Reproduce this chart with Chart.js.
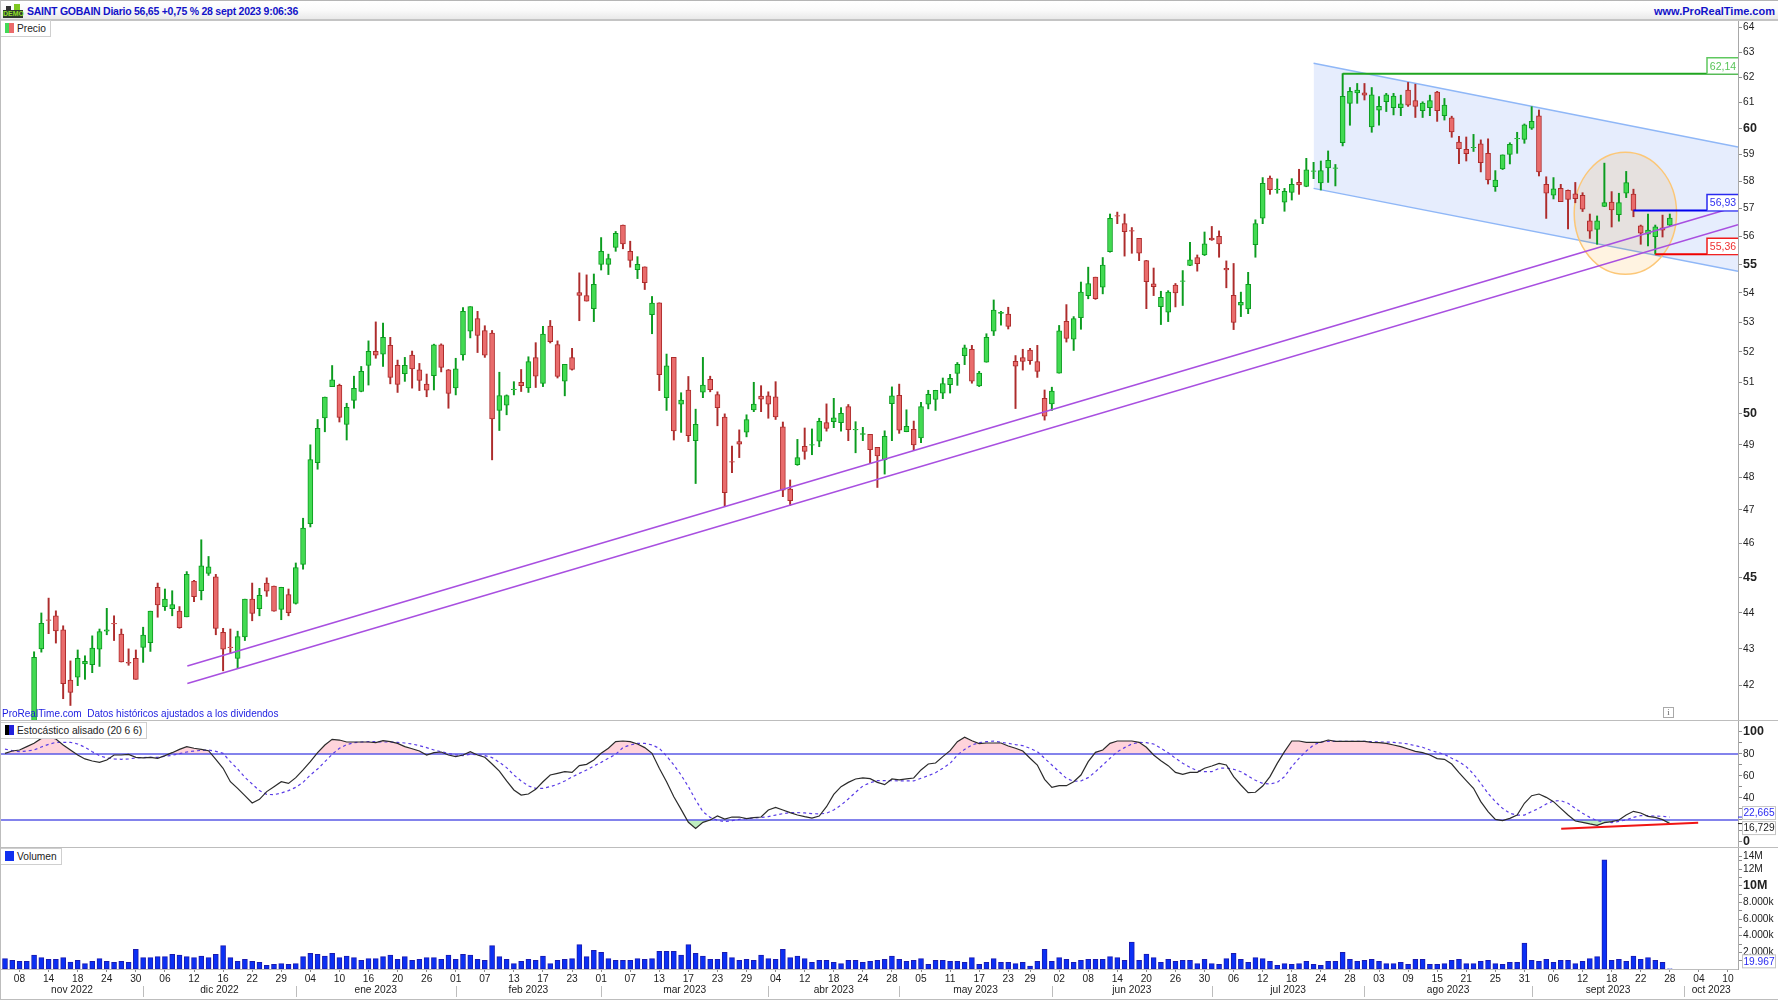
<!doctype html>
<html lang="es">
<head>
<meta charset="utf-8">
<title>SAINT GOBAIN Diario</title>
<script src="https://cdn.jsdelivr.net/npm/chart.js@4/dist/chart.umd.min.js"></script>
<style>
  html, body { margin: 0; padding: 0; background: #fff; width: 1778px; height: 1000px; overflow: hidden; }
  body { position: relative; font: 10.2px "Liberation Sans", Arial, sans-serif; color: #222; }
  canvas { position: absolute; left: 0; }
  .rule { position: absolute; background: #bdbdbd; }
  #head { position: absolute; left: 0; top: 0; width: 1778px; height: 21px; border-top: 1px solid #b5b5b5; box-sizing: border-box;
          background: linear-gradient(#fff, #fafafa 50%, #e9e9e9); border-bottom: 2px solid #c4c4c4; z-index: 5; }
  #title { position: absolute; left: 27px; top: 4px; font-weight: bold; color: #1212c8; white-space: nowrap; font-size: 10.5px; letter-spacing: -0.25px; }
  #site { position: absolute; right: 3px; top: 4px; font-weight: bold; color: #1212c8; white-space: nowrap; font-size: 11px; }
  .chip { position: absolute; left: 1px; height: 15px; line-height: 15px; background: #fff; border: 1px solid #cfcfcf; border-left: 0; padding: 0 4px 0 16px; z-index: 5; white-space: nowrap; color: #222; }
  .chip i { position: absolute; left: 4px; top: 2px; width: 9px; height: 10px; display: block; }
  #note { position: absolute; left: 2px; top: 708px; color: #1c1ce0; z-index: 5; white-space: nowrap; font-size: 10px; }
  #info { position: absolute; left: 1663px; top: 707px; width: 9px; height: 9px; border: 1px solid #a9a9a9; font: 9px "Liberation Serif", serif; line-height: 9px; text-align: center; color: #666; z-index: 5; }
  #logo { position: absolute; left: 3px; top: 4px; width: 20px; height: 14px; z-index: 6; }
  #logo b { position: absolute; left: 0; bottom: 0; width: 20px; height: 8px; background: #2f3a2f; color: #8fe02a; font: bold 7px/8px "Liberation Sans", Arial, sans-serif; text-align: center; letter-spacing: 0; }
  #logo u { position: absolute; left: 11px; top: 0; width: 6px; height: 6px; background: #7ec820; }
  #logo s { position: absolute; left: 3px; top: 2px; width: 5px; height: 4px; background: #333; }
</style>
</head>
<body>
<div id="head">
  <div id="title">SAINT GOBAIN Diario 56,65 +0,75 % 28 sept 2023 9:06:36</div>
  <div id="site">www.ProRealTime.com</div>
</div>
<div id="logo"><s></s><u></u><b>DEMO</b></div>
<div class="rule" style="left:0;top:0;width:1px;height:1000px;z-index:6"></div>
<div class="rule" style="left:0;top:720px;width:1778px;height:1px;z-index:1"></div>
<div class="rule" style="left:0;top:847px;width:1778px;height:1px;z-index:1"></div>
<div class="rule" style="left:0;top:999px;width:1778px;height:1px;z-index:1"></div>
<div class="chip" style="top:20px"><i style="background:linear-gradient(90deg,#43d957 50%,#ea6a6a 50%)"></i>Precio</div>
<div class="chip" style="top:722px"><i style="background:linear-gradient(90deg,#000 50%,#2222dd 50%)"></i>Estocástico alisado (20 6 6)</div>
<div class="chip" style="top:848px"><i style="background:#1030f0"></i>Volumen</div>
<div id="note">ProRealTime.com&nbsp; Datos históricos ajustados a los dividendos</div>
<div id="info">i</div>
<canvas id="volumeCanvas" width="1778" height="160" style="top:840px"></canvas>
<canvas id="priceCanvas" width="1778" height="701" style="top:20px"></canvas>
<canvas id="stochCanvas" width="1778" height="137" style="top:715px"></canvas>

<script>
// Daily prices, four leading sessions sit below the visible range and stay empty.
const open = [null,null,null,null,
  41.0,43.0,43.81,43.92,43.53,42.15,42.23,42.59,42.57,42.99,
  43.49,43.71,43.41,42.63,42.74,43.04,43.17,44.73,44.18,44.12,
  44.05,43.89,44.91,44.63,45.13,45.03,43.46,43.05,42.74,43.33,
  44.39,44.12,44.85,44.76,44.1,44.52,44.27,45.39,46.59,48.44,
  49.85,50.86,50.9,49.64,50.41,50.7,51.55,52.02,51.93,52.22,
  51.56,51.28,51.9,51.41,50.94,51.22,52.24,51.41,50.82,51.9,
  52.7,53.12,52.72,52.63,50.09,50.26,50.76,51,50.82,51.81,
  50.96,52.87,52.25,51.04,51.81,54.01,53.91,53.46,55,55,
  55.6,56.4,55.46,54.81,54.91,53.26,53.66,50.5,51.82,50.29,
  50.75,49.13,50.68,51.1,50.6,49.88,48.48,49.1,49.4,50.11,
  50.55,50.56,50.53,49.57,47.63,48.38,48.95,48.99,49.11,49.7,
  49.73,49.7,50.21,49.47,49.33,49.33,48.92,48.53,50.31,50.58,
  49.41,49.49,49.22,50.29,50.44,50.65,50.92,51.29,51.88,52.09,
  50.88,51.66,52.7,53.3,53.28,51.69,51.81,52.06,51.68,50.48,
  50.3,51.3,53.03,52.43,53.15,53.91,54.55,54.2,55.45,56.74,
  56.45,56.2,55.92,55.13,54.32,53.53,53.34,54.27,54.4,54.96,
  55.24,55.33,55.93,55.99,54.86,53.92,53.58,53.45,55.7,56.65,
  58.12,57.69,57.23,57.59,57.96,57.81,58.37,57.94,58.5,58.48,
  59.45,60.97,61.38,61.38,60.06,60.7,61.03,60.8,60.8,61.49,
  61.08,60.68,60.8,61.41,60.49,60.41,59.48,59.2,59.26,59.41,
  59.05,57.8,58.46,59.01,59.6,59.58,60.01,60.48,57.89,57.49,
  57.74,57.67,57.54,57.48,56.55,56.24,57.08,57.24,56.78,57.56,
  57.53,56.37,56.07,55.98,56.3,56.4];
const close = [null,null,null,null,
  42.77,43.71,43.79,43.5,42.05,41.82,42.74,42.66,43.02,43.48,
  43.53,43.69,42.64,42.61,42.17,43.38,44.05,44.23,44.39,44.24,
  43.59,45.1,44.46,45.35,45.32,43.57,42.99,43.03,43.34,44.39,
  43.99,44.5,44.62,44.05,44.73,44.01,45.3,46.46,48.54,49.52,
  50.52,51.08,49.87,50.19,50.8,51.36,52.02,51.89,52.49,51.16,
  50.93,51.56,51.44,51.06,50.74,52.24,51.49,50.64,51.44,53.37,
  53.53,52.55,51.89,49.82,50.57,50.57,50.78,50.89,51.68,51.2,
  52.6,52.34,51.19,51.59,51.42,53.92,53.72,54.3,55.46,55.2,
  56.1,55.72,55.14,55,54.36,53.65,51.25,51.54,49.44,50.42,
  49.29,49.65,50.91,50.76,50.18,47.52,48.46,49.02,49.8,50.29,
  50.45,50.29,49.88,47.6,47.28,48.6,48.79,49.01,49.74,49.52,
  49.85,50,49.48,49.49,49.35,48.85,48.65,49.27,50.56,49.46,
  49.58,49,50.21,50.61,50.74,50.96,51.13,51.59,52.14,51.04,
  51.3,52.49,53.41,53.34,52.86,51.53,51.69,51.71,51.36,49.91,
  50.71,52.71,52.45,53.12,54.03,54.33,53.8,54.97,56.64,56.72,
  56.16,56.18,55.39,54.39,54.22,53.85,54.03,54,54.42,55.16,
  55.02,55.73,55.87,55.72,54.8,52.99,53.68,54.3,56.45,57.93,
  57.69,57.71,57.63,57.89,57.87,58.43,58.39,58.4,58.79,58.5,
  61.24,61.44,61.49,61.29,61.3,60.85,61.3,61.25,60.95,60.9,
  60.85,60.98,61.08,60.68,60.9,59.86,59.23,59.04,59.28,58.7,
  58.05,58.05,58.99,59.39,59.62,60.14,60.27,58.35,57.56,57.72,
  57.25,57.33,57.36,56.98,56.18,56.55,57.22,56.95,57.22,57.95,
  56.93,56.11,56.22,56.34,56.22,56.65];
const high = [null,null,null,null,
  42.92,44,44.42,44.06,43.64,42.67,42.97,42.81,43.36,43.55,
  44.13,43.92,43.55,43,42.97,43.6,44.05,44.85,44.68,44.63,
  44.18,45.18,44.93,46.11,45.62,45.1,43.57,43.55,43.49,44.39,
  44.85,44.7,45,44.76,44.73,44.68,45.43,46.75,49,49.8,
  50.52,51.55,50.94,50.32,51.2,51.52,52.37,53.01,52.97,52.49,
  51.73,51.82,52.03,51.62,51.27,52.26,52.27,51.42,51.79,53.5,
  53.53,53.37,52.88,52.72,51.33,50.59,51.02,51.42,51.84,52.31,
  52.86,53.06,52.37,51.59,52.12,54.7,54.63,54.66,55.95,55.36,
  56.17,56.4,55.82,55.27,54.91,53.88,53.66,51.93,51.82,50.66,
  51.19,50.13,51.82,51.2,50.69,49.98,48.96,49.47,49.95,51,
  50.89,50.69,51.02,49.72,47.91,49.17,49.53,49.5,49.84,50.3,
  50.48,50.18,50.28,49.73,49.55,49.33,48.92,49.44,50.85,50.94,
  50.11,49.75,50.35,50.74,50.74,51.14,51.26,51.65,52.23,52.22,
  51.36,52.61,53.76,53.37,53.51,51.88,52.09,52.12,52.22,50.75,
  50.84,52.89,53.6,53.19,54.38,54.9,54.55,55.24,56.8,56.87,
  56.8,56.31,55.92,55.14,54.87,54.06,54.08,54.33,54.78,55.78,
  55.33,56.15,56.35,56.19,55.12,55.03,54.03,54.72,56.59,58.14,
  58.2,58.09,57.74,58.1,58.45,58.86,58.71,58.76,59.14,58.63,
  62.14,61.59,61.75,61.75,61.59,61.23,61.36,61.36,61.29,61.79,
  61.72,61.03,61.29,61.44,61.16,60.47,59.7,59.67,59.77,59.56,
  59.6,58.4,58.99,59.45,59.85,60.17,60.84,60.71,58.17,58.14,
  57.89,57.68,57.96,57.58,56.8,56.73,58.68,57.62,57.56,58.37,
  57.71,56.4,56.8,56.4,56.76,56.8];
const low = [null,null,null,null,
  40.9,42.91,43.42,43.16,41.65,41.47,42,42.17,42.35,42.52,
  43.39,43.23,42.64,42.55,42.17,42.63,42.93,43.88,44.07,43.92,
  43.57,43.89,44.32,44.37,45.07,43.39,42.4,42.88,42.47,43.23,
  43.78,43.92,44.47,44.05,43.81,43.92,44.25,45.25,46.49,48.24,
  49.41,50.86,49.72,49.15,50.16,50.69,50.91,51.79,51.52,50.95,
  50.67,51.03,50.81,50.73,50.53,50.75,51.34,50.16,50.59,51.73,
  52.47,51.98,51.82,48.53,49.45,49.95,50.59,50.7,50.67,50.83,
  50.86,52.3,51.14,50.56,51.4,53.05,53.72,53.02,54.8,54.64,
  55.46,55.55,54.9,54.5,54.12,52.61,50.73,50.09,49.15,49.39,
  49.1,47.8,50.5,50.69,49.6,47.1,48.13,48.6,49.25,50.05,
  50.05,49.84,49.8,47.4,47.13,48.36,48.55,48.69,48.94,49.43,
  49.54,49.43,49.13,48.75,49.13,48.42,47.68,48.09,49.13,49.36,
  49.41,48.83,49.07,50.14,50.09,50.47,50.65,50.9,51.58,50.97,
  50.86,51.66,52.55,52.9,52.77,50.15,51.4,51.59,51.16,49.78,
  50.09,51.3,52.33,52.05,52.76,53.8,53.78,53.97,55.43,56.45,
  55.29,55.39,55.13,53.46,53.91,52.92,53.02,53.52,53.57,54.95,
  54.76,55.31,55.85,55.25,54.18,52.75,53.19,53.29,55.25,56.45,
  57.52,57.56,56.9,57.31,57.52,57.8,58.1,57.68,57.96,57.83,
  59.33,60.12,60.97,61.1,59.85,60.12,60.65,60.52,60.49,60.85,
  60.42,60.42,60.49,60.27,60.32,59.66,58.66,58.76,59.12,58.35,
  57.9,57.63,58.44,58.65,59.05,59.43,59.96,58.2,56.64,57.35,
  57.25,56.26,57.21,56.89,55.92,55.71,57.07,56.33,56.54,57.4,
  56.7,55.71,55.65,55.36,55.97,56.38];

// Smoothed stochastic (20 6 6): %K and its signal.
const stochK = [
  80.6,82.7,83.6,86.7,89.7,94.2,95.2,93.6,88.2,83.6,
  79.1,75.5,73.6,72.4,74.5,79.1,79.1,79.7,77,76.4,
  77,76.1,78.5,81.2,84.2,86.7,85.2,84.2,83,75.2,
  67,54.8,48.8,42.1,35.5,38.8,45.8,50.3,54.8,53.3,
  58.5,65.5,73,81.2,88.2,93.3,92.7,90.9,90.9,90.9,
  90.9,90.3,92.1,91.2,89.7,86.7,84.8,82.7,79.1,81.2,
  81.8,79.1,77.6,79.1,82.1,79.1,77,70.9,64.5,55.5,
  47.3,42.7,43.6,47.9,54.8,60.9,62.4,63.9,63.3,69.4,
  70.6,74.5,80.6,85.2,91.2,91.8,91.2,89.1,85.8,80.6,
  67,54.8,41.2,29.7,17.9,12.4,17.9,20,23.6,20.9,
  22.7,22.7,21.2,22.1,22.7,29.1,31.5,29.1,26.7,24.5,
  23,21.8,23.6,32.1,43.3,50.3,54.2,57.3,58.2,57.6,
  54.2,52.1,57.3,56.4,57.3,58.2,65.5,70.9,71.8,77.6,
  83,91.2,95.2,92.1,89.4,90,90,90,87.3,85.2,
  82.7,76.1,70,57,49.7,51.2,51.2,54.8,60.9,73,
  81.5,83.6,89.7,91.8,91.8,91.8,90.6,86.1,79.1,73.9,
  69.4,63.3,61.5,63.3,63.3,67,69.1,71.5,70,59.4,
  51.8,44.8,45.2,50.9,59.4,71.5,82.1,91.8,91.8,90.6,
  90.6,90.6,92.7,91.5,91.5,91.5,91.5,91.5,90.6,90.3,
  89.7,88.2,86.7,84.5,82.4,81.2,79.1,75.8,75.2,70.9,
  63,55.8,48.8,36.7,27.6,20.6,19.4,21.5,24.5,35.2,
  42.1,43.6,40.6,36.7,30.6,24.5,19.1,17.9,16.4,15.2,
  17.6,18.5,20,24.5,27.9,26.4,23.3,22.4,20.3,16.729];
const stochD = [
  84.5,83,82.1,82.7,83.6,86.4,88.8,90.6,90.6,90.6,
  89.1,86.1,82.1,78.5,76.4,75.5,75.2,75.5,76.4,76.7,
  77,77,77.9,78.8,80.3,81.8,82.7,83.3,83.6,82.4,
  80.6,73,66.4,58.8,52.7,46.7,43.3,43,44.5,46.7,
  49.7,54.2,60.9,66.4,73,79.7,85.2,88.5,90.3,90.9,
  91.2,91.2,90.9,90.9,90.6,90,89.1,87.6,85.8,83.6,
  82.1,80.6,79.1,78.5,79.7,79.4,78.5,76.7,72.4,67.6,
  60.9,55.5,50.9,48.8,48.8,50.3,52.4,55.5,59.1,62.4,
  65.5,69.1,72.4,76.1,79.7,85.8,88.2,89.7,89.7,88.2,
  85.2,78.2,70,60.9,50.3,38.2,27.6,22.4,19.7,18.5,
  19.4,20.6,21.2,21.8,22.4,23,24.5,25.8,26.7,26.7,
  26.4,25.8,25.5,26.1,29.1,33.6,39.1,45.2,50.9,53.9,
  55.8,55.8,55.8,55.5,55.5,55.5,57.9,60.3,63,67,
  71.5,79.1,84.2,88.2,90.3,91.2,91.8,90.6,89.7,88.5,
  87.6,85.2,82.1,76.1,70,63.9,57.9,55.2,55.5,58.5,
  63.9,70,76.1,82.1,85.8,89.1,90.6,90.3,89.1,85.2,
  81.2,76.1,71.5,67.9,64.8,63.9,63.9,67,67.3,66.1,
  63.9,60,56.1,53.3,52.7,54.2,59.4,68.5,76.1,82.7,
  88.2,90.9,91.5,91.5,91.5,91.5,91.5,91.5,91.2,90.9,
  90.9,90.6,90,89.1,87.6,86.1,83.6,81.5,79.7,76.1,
  73,68.5,61.8,53.3,44.2,36.7,30.6,26.1,24.5,24.5,
  27.6,30.6,34.5,37.3,37.6,35.2,30.6,26.1,22.4,19.4,
  18.2,17.6,18.8,20,22.4,23.9,23.9,23.6,23.3,22.665];

// Daily volume, in millions of shares.
const volumeM = [
  1.24,1.04,.92,.92,1.68,1.36,1.16,1.16,1.36,.84,
  1.04,.64,.92,1.24,.92,.8,.92,.8,2.36,1.36,
  1.36,1.48,1.48,1.76,1.68,1.48,1.36,1.56,1.36,1.76,
  2.8,1.36,.92,1.16,.92,.8,.44,.56,.64,.56,
  .64,1.48,1.88,1.76,1.56,1.88,1.36,1.56,1.36,1.04,
  1.24,1.24,1.48,1.68,1.16,1.48,1.04,1.16,1.36,1.36,
  1.16,1.68,1.16,1.76,1.68,1.16,1.04,2.8,1.48,1.16,
  .64,.92,1.16,1.04,1.56,.64,1.04,1.16,1.24,2.92,
  1.48,2.24,2,1.24,1.04,1.04,1.04,1.24,1.16,1.24,
  2.12,2.12,2.12,1.68,2.92,1.88,1.56,1.16,1.16,2,
  1.36,1.04,1.16,1.04,1.68,1.24,1.16,2.36,1.36,1.56,
  1.24,.8,1.04,1.04,.8,.64,1.04,1.04,.8,.92,
  1.04,1.16,1.56,1.16,.92,1.04,1.24,.56,1.04,1.04,
  .92,.92,.8,1.36,.56,.8,1.24,.8,.8,.64,
  .8,.36,.92,2.36,.92,1.36,1.16,.8,1.04,1.16,
  1.16,1.16,1.48,1.36,1.04,3.24,1.04,1.8,1.36,.8,
  1.16,.92,1.04,1.04,.64,1.16,.64,.56,1.24,1.88,
  1.16,.8,1.36,1.24,.92,.44,.64,.56,.64,.92,
  .56,.44,.92,.92,2,1.16,.92,1.04,1.16,.92,
  .64,.64,.8,.56,1.16,1.16,.56,.56,.64,1.04,
  1.16,.64,.64,.92,1.04,.64,.56,.8,.8,3.12,
  1.04,.92,1.16,.8,1.04,1.04,.64,.92,1.24,1.48,
  13.12,1.04,1.16,.92,1.56,1.16,1.36,1.04,.8,0.019967];

// Date axis: session index of each day tick, and of each month's first session.
const dayTickIndex = [2,6,10,14,18,22,26,30,34,38,42,46,50,54,58,62,66,70,74,78,82,86,90,94,98,102,106,110,114,118,122,126,130,134,138,
  141,145,149,153,157,161,165,169,173,177,181,185,189,193,197,201,205,209,213,217,221,225,229,233,237];
const dayTickLabels = ['08','14','18','24','30','06','12','16','22','29','04','10','16','20','26','01','07','13','17','23','01','07','13','17','23','29','04','12','18','24','28','05','11','17','23','29','02','08','14','20','26','30','06','12','18','24','28','03','09','15','21','25','31','06','12','18','22','28','04','10'];
const monthLabels = ['nov 2022','dic 2022','ene 2023','feb 2023','mar 2023','abr 2023','may 2023','jun 2023','jul 2023','ago 2023','sept 2023','oct 2023'];
const monthStarts = [19,40,62,82,105,123,144,166,187,210,231];

// Axis ticks.
const priceTicks = [42,43,44,45,46,47,48,49,50,51,52,53,54,55,56,57,58,59,60,61,62,63,64];
const priceBold = [45,50,55,60];
const stochTicks = [0,10,20,30,40,50,60,70,80,90,100];
const stochLabels = [0,40,60,80,100];
const volumeTicks = [1,2,3,4,5,6,7,8,9,10,11,12,13,13.55];
const volumeLabels = {2:'2.000k',4:'4.000k',6:'6.000k',8:'8.000k',10:'10M',12:'12M',13.55:'14M'};

// Hand-drawn studies on the price pane, as [session, price] pairs.
const xMin = -0.55, xMax = 238.38;
const channelTop = [[180,62.55],[xMax,59.29]];
const channelBottom = [[180,57.74],[xMax,54.76]];
const trendUpper = [[25.08,42.53],[236.5,56.94]];
const trendLower = [[25.08,42.06],[xMax,56.41]];
const levelHigh = 62.14, levelHighFrom = 184;
const levelMid = 56.93, levelMidFrom = 224;
const levelLow = 55.36, levelLowFrom = 227;
const ellipseSessions = [215.85,229.93];
const ellipsePrices = [54.65,59.09];
const stochTrend = [[214.06,12.1],[232.9,17.6]];
const stochBands = [80,20];

const FONT = "'Liberation Sans', Arial, sans-serif";
Chart.defaults.font.family = FONT;
Chart.defaults.font.size = 10.2;
Chart.defaults.color = '#222';
Chart.defaults.animation = false;
Chart.defaults.events = [];

const UP_FILL = '#42da52', UP_LINE = '#0b9c1f';
const DOWN_FILL = '#e96c6c', DOWN_LINE = '#ad2c2c';
const AXIS = '#a8a8a8', TICK = '#8c8c8c';

const pts = pairs => pairs.map(([x, y]) => ({x, y}));
const sessions = close.map((c, i) => i).filter(i => close[i] !== null);
const fmtDec = (v, d) => v.toFixed(d).replace('.', ',');

// Removes the label-driven margins so each plot area ends exactly on the pane edges.
const noMargins = s => { s.paddingTop = s.paddingBottom = s.paddingLeft = s.paddingRight = 0; };
const rightAxis = extra => Object.assign({
  position: 'right', bounds: 'data',
  border: {color: AXIS, width: 1},
  grid: {drawOnChartArea: false, tickLength: 4, tickColor: TICK, tickWidth: 1},
  afterFit: s => { s.width = 40; noMargins(s); }
}, extra);
const hiddenX = {type: 'linear', min: xMin, max: xMax, bounds: 'data', display: false, offset: false, grid: {offset: false}};
const flat = {legend: {display: false}, tooltip: {enabled: false}};

// Orange highlight behind the candles; multiply keeps the channel tint underneath.
const ellipsePlugin = {
  id: 'ellipse',
  beforeDatasetDraw(chart, args) {
    if (chart.data.datasets[args.index].label !== 'wicks') return;
    const {x, y} = chart.scales, c = chart.ctx;
    const x0 = x.getPixelForValue(ellipseSessions[0]), x1 = x.getPixelForValue(ellipseSessions[1]);
    const y0 = y.getPixelForValue(ellipsePrices[1]), y1 = y.getPixelForValue(ellipsePrices[0]);
    c.save();
    c.beginPath();
    c.ellipse((x0 + x1) / 2, (y0 + y1) / 2, (x1 - x0) / 2, (y1 - y0) / 2, 0, 0, Math.PI * 2);
    c.globalCompositeOperation = 'multiply';
    c.fillStyle = 'rgb(255,243,225)';
    c.fill();
    c.globalCompositeOperation = 'source-over';
    c.strokeStyle = '#fcc777';
    c.lineWidth = 1.5;
    c.stroke();
    c.restore();
  }
};

// Level tags standing on the right end of each horizontal line.
const levelTags = {
  id: 'levelTags',
  afterDatasetsDraw(chart) {
    const {y} = chart.scales, c = chart.ctx, right = chart.chartArea.right;
    [[levelHigh, '#5fc85f', '#58c458'], [levelMid, '#2a2af0', '#3030f0'], [levelLow, '#f01c1c', '#ee3030']].forEach(([v, line, text]) => {
      const py = y.getPixelForValue(v), x0 = right - 31, h = 16;
      c.save();
      c.fillStyle = '#fff';
      c.fillRect(x0, py - h, 31, h);
      c.strokeStyle = line;
      c.lineWidth = 1.5;
      c.beginPath();
      c.moveTo(x0, py);
      c.lineTo(x0, py - h);
      c.lineTo(right, py - h);
      c.stroke();
      c.fillStyle = text;
      c.font = '10.5px ' + FONT;
      c.textAlign = 'center';
      c.textBaseline = 'middle';
      c.fillText(fmtDec(v, 2), x0 + 16, py - h / 2 + 1);
      c.restore();
    });
  }
};

function valueBox(c, text, color, cy) {
  c.save();
  c.fillStyle = '#fff';
  c.fillRect(1742, cy - 6.5, 33, 13);
  c.strokeStyle = '#c4c4c4';
  c.lineWidth = 1;
  c.strokeRect(1742.5, cy - 6.5, 33, 13);
  c.fillStyle = color;
  c.font = '10.2px ' + FONT;
  c.textAlign = 'center';
  c.textBaseline = 'middle';
  c.fillText(text, 1759, cy + 0.5);
  c.restore();
}

const stochTags = {
  id: 'stochTags',
  afterDraw(chart) {
    const {y} = chart.scales, c = chart.ctx;
    const k = stochK[stochK.length - 1], d = stochD[stochD.length - 1];
    const pk = y.getPixelForValue(k), pd = y.getPixelForValue(d);
    c.save();
    c.lineWidth = 1;
    c.strokeStyle = '#2a2af0';
    c.beginPath(); c.moveTo(1738, pd); c.lineTo(1742, pd); c.stroke();
    c.strokeStyle = '#111';
    c.beginPath(); c.moveTo(1738, pk); c.lineTo(1742, pk); c.stroke();
    c.restore();
    valueBox(c, fmtDec(d, 3), '#2a2af0', pd - 4);
    valueBox(c, fmtDec(k, 3), '#222', pk + 4.5);
  }
};

const volumeTags = {
  id: 'volumeTags',
  afterDraw(chart) {
    const {x} = chart.scales, c = chart.ctx;
    c.save();
    c.strokeStyle = '#bdbdbd';
    c.lineWidth = 1;
    monthStarts.forEach(s => {
      const px = Math.round(x.getPixelForValue(s)) + 0.5;
      c.beginPath(); c.moveTo(px, 146); c.lineTo(px, 157); c.stroke();
    });
    c.restore();
    const last = volumeM[volumeM.length - 1];
    valueBox(c, (last * 1e6).toLocaleString('de-DE'), '#2a2af0', chart.scales.y.getPixelForValue(last) - 7.5);
  }
};

new Chart(document.getElementById('priceCanvas'), {
  type: 'bar',
  plugins: [ellipsePlugin, levelTags],
  data: {
    datasets: [
      {type: 'line', label: 'channel', order: 10, data: pts(channelTop), borderColor: '#8fb7f7', borderWidth: 1.5, pointRadius: 0,
       fill: '+1', backgroundColor: '#e6edfd'},
      {type: 'line', label: 'channel low', order: 9, data: pts(channelBottom), borderColor: '#8fb7f7', borderWidth: 1.5, pointRadius: 0, fill: false},
      {label: 'wicks', order: 6, grouped: false, barThickness: 1.3, borderWidth: 0,
       data: sessions.map(i => ({x: i, y: [low[i], high[i]]})),
       backgroundColor: sessions.map(i => close[i] >= open[i] ? UP_LINE : DOWN_LINE)},
      {label: 'bodies', order: 5, grouped: false, barThickness: 5, borderWidth: 1, borderSkipped: false,
       data: sessions.map(i => ({x: i, y: [Math.min(open[i], close[i]), Math.max(open[i], close[i])]})),
       backgroundColor: sessions.map(i => close[i] >= open[i] ? UP_FILL : DOWN_FILL),
       borderColor: sessions.map(i => close[i] >= open[i] ? UP_LINE : DOWN_LINE)},
      {type: 'line', label: 'trend upper', order: 4, data: pts(trendUpper), borderColor: '#a84fe0', borderWidth: 1.6, pointRadius: 0},
      {type: 'line', label: 'trend lower', order: 4, data: pts(trendLower), borderColor: '#a84fe0', borderWidth: 1.6, pointRadius: 0},
      {type: 'line', label: 'high', order: 3, data: pts([[levelHighFrom, levelHigh], [xMax, levelHigh]]), borderColor: '#1fa51f', borderWidth: 2, pointRadius: 0},
      {type: 'line', label: 'mid', order: 3, data: pts([[levelMidFrom, levelMid], [xMax, levelMid]]), borderColor: '#0000f0', borderWidth: 2, pointRadius: 0},
      {type: 'line', label: 'low', order: 3, data: pts([[levelLowFrom, levelLow], [xMax, levelLow]]), borderColor: '#f00000', borderWidth: 2, pointRadius: 0}
    ]
  },
  options: {
    responsive: false,
    layout: {padding: {left: 1, top: 0, right: 0, bottom: 0}},
    plugins: flat,
    scales: {
      x: hiddenX,
      y: rightAxis({
        type: 'logarithmic', min: 41.06, max: 64.31,
        afterBuildTicks: s => { s.ticks = priceTicks.map(value => ({value})); },
        ticks: {
          autoSkip: false, padding: 1, color: '#222',
          callback: v => String(v),
          font: c => priceBold.includes(c.tick && c.tick.value) ? {size: 12.5, weight: 'bold'} : {size: 10.2}
        }
      })
    }
  }
});

new Chart(document.getElementById('stochCanvas'), {
  type: 'line',
  plugins: [stochTags],
  data: {
    datasets: [
      {label: 'over', order: 9, data: stochK.map((y, x) => ({x, y})), borderWidth: 0, borderColor: 'transparent', pointRadius: 0,
       fill: {target: {value: stochBands[0]}, above: '#ffd3db', below: 'rgba(0,0,0,0)'}},
      {label: 'under', order: 9, data: stochK.map((y, x) => ({x, y})), borderWidth: 0, borderColor: 'transparent', pointRadius: 0,
       fill: {target: {value: stochBands[1]}, above: 'rgba(0,0,0,0)', below: '#bfeebf'}},
      {label: 'band 80', order: 5, data: pts([[xMin, stochBands[0]], [xMax, stochBands[0]]]), borderColor: '#5a5ae6', borderWidth: 1.4, pointRadius: 0},
      {label: 'band 20', order: 5, data: pts([[xMin, stochBands[1]], [xMax, stochBands[1]]]), borderColor: '#5a5ae6', borderWidth: 1.4, pointRadius: 0},
      {label: 'signal', order: 3, data: stochD.map((y, x) => ({x, y})), borderColor: '#5a3ce6', borderWidth: 1.2, borderDash: [3, 3], pointRadius: 0},
      {label: 'K', order: 2, data: stochK.map((y, x) => ({x, y})), borderColor: '#2b2b2b', borderWidth: 1.2, pointRadius: 0},
      {label: 'trend', order: 1, data: pts(stochTrend), borderColor: '#f01414', borderWidth: 2, pointRadius: 0}
    ]
  },
  options: {
    responsive: false,
    layout: {padding: {left: 1, top: 6, right: 0, bottom: 5}},
    plugins: flat,
    scales: {
      x: hiddenX,
      y: rightAxis({
        type: 'linear', min: -4.55, max: 110,
        afterBuildTicks: s => { s.ticks = stochTicks.map(value => ({value})); },
        ticks: {
          autoSkip: false, padding: 1, color: '#222',
          callback: v => stochLabels.includes(v) ? String(v) : '',
          font: c => [0, 100].includes(c.tick && c.tick.value) ? {size: 12.5, weight: 'bold'} : {size: 10.2}
        }
      })
    }
  }
});

new Chart(document.getElementById('volumeCanvas'), {
  type: 'bar',
  plugins: [volumeTags],
  data: {
    datasets: [
      {label: 'Volumen', barThickness: 5, borderWidth: 1, borderSkipped: false, grouped: false,
       data: volumeM.map((y, x) => ({x, y})), backgroundColor: '#0a30f5', borderColor: '#1a1ab0'}
    ]
  },
  options: {
    responsive: false,
    layout: {padding: {left: 1, top: 7, right: 0, bottom: 0}},
    plugins: flat,
    scales: {
      x: {
        type: 'linear', min: xMin, max: xMax, bounds: 'data', offset: false, weight: 0,
        border: {color: '#bdbdbd'},
        grid: {drawOnChartArea: false, offset: false, tickLength: 3, tickColor: TICK},
        afterBuildTicks: s => { s.ticks = dayTickIndex.map(value => ({value})); },
        afterFit: s => { s.height = 15; noMargins(s); },
        ticks: {
          autoSkip: false, maxRotation: 0, minRotation: 0, padding: 1, color: '#222',
          callback: v => dayTickLabels[dayTickIndex.indexOf(v)]
        }
      },
      months: {
        type: 'linear', position: 'bottom', axis: 'x', min: xMin, max: xMax, bounds: 'data', offset: false, weight: 1,
        border: {display: false},
        grid: {display: false, drawTicks: false, offset: false},
        afterBuildTicks: s => {
          const edges = [xMin, ...monthStarts, xMax];
          s.ticks = monthLabels.map((_, i) => ({value: (edges[i] + edges[i + 1]) / 2}));
        },
        afterFit: s => { s.height = 16; noMargins(s); },
        ticks: {
          autoSkip: false, maxRotation: 0, minRotation: 0, padding: 0, color: '#222',
          callback: (v, i) => monthLabels[i]
        }
      },
      y: rightAxis({
        type: 'linear', min: 0, max: 14.65,
        afterBuildTicks: s => { s.ticks = volumeTicks.map(value => ({value})); },
        ticks: {
          autoSkip: false, padding: 1, color: '#222',
          callback: v => volumeLabels[v] || '',
          font: c => (c.tick && c.tick.value) === 10 ? {size: 12.5, weight: 'bold'} : {size: 10.2}
        }
      })
    }
  }
});
</script>
</body>
</html>
